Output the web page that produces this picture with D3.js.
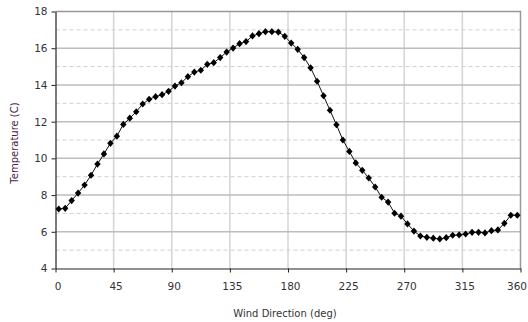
<!DOCTYPE html>
<html>
<head>
<meta charset="utf-8">
<script src="https://cdn.jsdelivr.net/npm/d3@7"></script>
<style>
  body { margin: 0; background: #fff; }
  svg { display: block; }
  text { font-family: "DejaVu Sans", Verdana, sans-serif; }
</style>
</head>
<body>
<div id="chart"></div>
<script>
(() => {
  // wind direction bins (deg), centre of each 5 deg bin
  const directions = d3.range(72).map(i => 2.5 + i * 5);
  const temps = [
    7.24, 7.28, 7.70, 8.11, 8.55, 9.08, 9.69, 10.24, 10.82, 11.21,
    11.85, 12.19, 12.54, 12.96, 13.22, 13.36, 13.47, 13.65, 13.94, 14.12,
    14.45, 14.70, 14.80, 15.12, 15.21, 15.49, 15.79, 16.01, 16.25, 16.36,
    16.67, 16.79, 16.90, 16.90, 16.88, 16.65, 16.28, 15.94, 15.49, 14.93,
    14.20, 13.41, 12.62, 11.83, 11.00, 10.38, 9.75, 9.35, 8.93, 8.44,
    7.88, 7.62, 7.01, 6.85, 6.43, 6.04, 5.77, 5.70, 5.65, 5.61,
    5.68, 5.81, 5.83, 5.88, 5.97, 5.97, 5.94, 6.06, 6.10, 6.46,
    6.90, 6.90
  ];
  const xTicks = [0, 45, 90, 135, 180, 225, 270, 315, 360];
  const yTicks = [4, 6, 8, 10, 12, 14, 16, 18];
  const yMinor = [5, 7, 9, 11, 13, 15, 17];

  const data = directions.map((d, i) => ({ dir: d, t: temps[i] }));

  const width = 528, height = 322;
  const margin = { top: 11.5, right: 7.5, bottom: 53.5, left: 55.5 };
  const w = width - margin.left - margin.right;
  const h = height - margin.top - margin.bottom;

  const svg = d3.select('#chart')
    .append('svg')
    .attr('width', width)
    .attr('height', height);

  const g = svg.append('g')
    .attr('transform', `translate(${margin.left},${margin.top})`);

  const x = d3.scaleLinear().domain([0, 360]).range([0, w]);
  const y = d3.scaleLinear().domain([4, 18]).range([h, 0]);

  // grid
  g.selectAll('.vgrid')
    .data(xTicks.slice(1, -1))
    .enter().append('line')
    .attr('x1', d => x(d)).attr('x2', d => x(d))
    .attr('y1', 0).attr('y2', h)
    .attr('stroke', '#d4d4d4').attr('stroke-width', 1.5);

  g.selectAll('.minor')
    .data(yMinor)
    .enter().append('line')
    .attr('x1', 0).attr('x2', w)
    .attr('y1', d => y(d)).attr('y2', d => y(d))
    .attr('stroke', '#d0d0d0').attr('stroke-width', 1)
    .attr('stroke-dasharray', '4,3');

  g.selectAll('.major')
    .data(yTicks.slice(1, -1))
    .enter().append('line')
    .attr('x1', 0).attr('x2', w)
    .attr('y1', d => y(d)).attr('y2', d => y(d))
    .attr('stroke', '#bdbdbd').attr('stroke-width', 1.5);

  // frame top/right
  g.append('path')
    .attr('d', `M0,0H${w}V${h}`)
    .attr('fill', 'none')
    .attr('stroke', '#999')
    .attr('stroke-width', 1.5);

  // axes
  const xAxis = g.append('g')
    .attr('transform', `translate(0,${h})`)
    .call(d3.axisBottom(x).tickValues(xTicks).tickSize(4).tickPadding(10).tickSizeOuter(0));

  const yAxis = g.append('g')
    .call(d3.axisLeft(y).tickValues(yTicks).tickSize(4).tickPadding(4).tickSizeOuter(0));

  [xAxis, yAxis].forEach(a => {
    a.select('.domain').attr('stroke', '#222').attr('stroke-width', 1.2);
    a.selectAll('.tick line').attr('stroke', '#222');
    a.selectAll('.tick text')
      .attr('fill', '#333')
      .style('font-size', '10.5px')
      .style('font-family', '"DejaVu Sans", Verdana, sans-serif');
  });

  // x labels sit a little right of their ticks; keep the last one inside
  xAxis.selectAll('.tick text')
    .attr('dx', 2)
    .filter(d => d === 360)
    .attr('text-anchor', 'end')
    .attr('dx', width - margin.left - w - 1.5);

  // line + markers
  const line = d3.line().x(d => x(d.dir)).y(d => y(d.t));
  g.append('path')
    .datum(data)
    .attr('d', line)
    .attr('fill', 'none')
    .attr('stroke', '#111')
    .attr('stroke-width', 1);

  g.selectAll('.pt')
    .data(data)
    .enter().append('path')
    .attr('class', 'pt')
    .attr('transform', d => `translate(${x(d.dir)},${y(d.t)})`)
    .attr('d', 'M0,-3.6L3.2,0L0,3.6L-3.2,0Z')
    .attr('fill', '#000');

  // titles
  svg.append('text')
    .attr('x', margin.left + w / 2 - 3)
    .attr('y', 317)
    .attr('text-anchor', 'middle')
    .attr('fill', '#333')
    .style('font-size', '10px')
    .text('Wind Direction (deg)');

  svg.append('text')
    .attr('transform', `translate(18,${margin.top + h / 2 + 3}) rotate(-90)`)
    .attr('text-anchor', 'middle')
    .attr('fill', '#4a2048')
    .style('font-size', '10px')
    .text('Temperature (C)');
})();
</script>
</body>
</html>
